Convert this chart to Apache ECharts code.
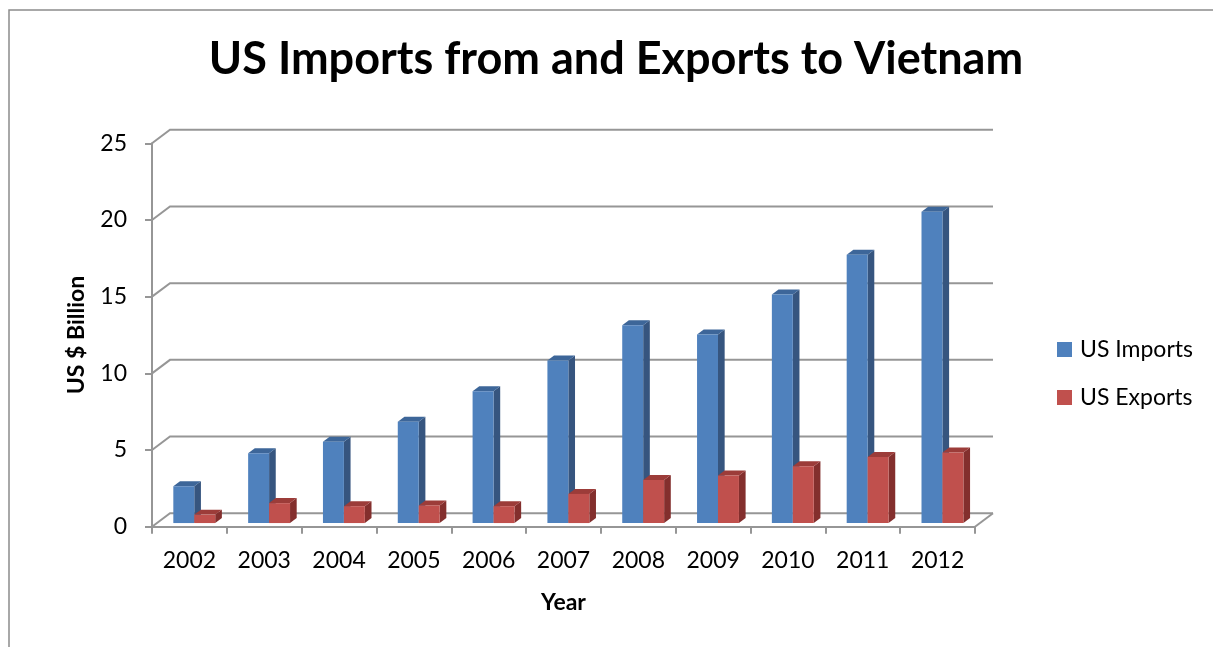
<!DOCTYPE html>
<html>
<head>
<meta charset="utf-8">
<script src="https://cdn.jsdelivr.net/npm/echarts@6/dist/echarts.min.js"></script>
<style>
  html, body { margin: 0; padding: 0; background: #fff; }
  #chart { width: 1213px; height: 647px; }
</style>
</head>
<body>
<div id="chart"></div>
<script>
// Trade data, US $ billion
const years = ['2002','2003','2004','2005','2006','2007','2008','2009','2010','2011','2012'];
const usImports = [2.4, 4.55, 5.3, 6.6, 8.6, 10.6, 12.9, 12.3, 14.9, 17.5, 20.3];
const usExports = [0.55, 1.3, 1.1, 1.15, 1.1, 1.9, 2.8, 3.1, 3.7, 4.3, 4.6];
const yTicks = [0, 5, 10, 15, 20, 25];

const FONT = 'Lato, "Open Sans", sans-serif';

// Oblique projection of the depth axis: full depth of the floor/back wall
const DX = 18, DY = -13.5;
// Bars occupy this slice of the depth
const T0 = 0.27, T1 = 0.64;
const BAR_FRAC = 0.28;

const chart = echarts.init(document.getElementById('chart'));

function barRenderer(side, colors) {
  return function (params, api) {
    const idx = api.value(0);
    const val = api.value(1);
    const top = api.coord([idx, val]);
    const base = api.coord([idx, 0]);
    const w = api.size([1, 0])[0] * BAR_FRAC;
    const c = top[0];
    const fx = T0 * DX, fy = T0 * DY;
    const bx = T1 * DX, by = T1 * DY;
    const x0 = side < 0 ? c + fx - w : c + fx;
    const x1 = x0 + w;
    const yTop = top[1] + fy;
    const yBot = base[1] + fy;
    const ddx = bx - fx, ddy = by - fy;
    return {
      type: 'group',
      children: [
        { type: 'polygon', shape: { points: [[x1, yTop], [x1 + ddx, yTop + ddy], [x1 + ddx, yBot + ddy], [x1, yBot]] },
          style: { fill: colors.side } },
        { type: 'polygon', shape: { points: [[x0, yTop], [x0 + ddx, yTop + ddy], [x1 + ddx, yTop + ddy], [x1, yTop]] },
          style: { fill: colors.top } },
        { type: 'rect', shape: { x: x0, y: yTop, width: w, height: yBot - yTop },
          style: { fill: colors.front } }
      ]
    };
  };
}

// Back wall gridlines with their slanted joins to the front axis
function wallRenderer(params, api) {
  const v = api.value(1);
  const left = api.coord([0, v]);
  const cs = params.coordSys;
  const xl = cs.x, xr = cs.x + cs.width;
  const y = left[1];
  const children = [
    { type: 'polyline', shape: { points: [[xl, y], [xl + DX, y + DY], [xr + DX, y + DY]] },
      style: { stroke: '#969696', lineWidth: 2, fill: null } }
  ];
  if (v === 0) {
    children.push({ type: 'line', shape: { x1: xr, y1: y, x2: xr + DX, y2: y + DY },
      style: { stroke: '#969696', lineWidth: 2 } });
  }
  return { type: 'group', children: children };
}

const option = {
  animation: false,
  backgroundColor: '#ffffff',
  title: {
    text: 'US Imports from and Exports to Vietnam',
    left: 611, top: 32, textAlign: 'center',
    textStyle: { fontFamily: FONT, fontWeight: 'bold', fontSize: 45, color: '#000' }
  },
  legend: {
    orient: 'vertical',
    left: 1052, top: 333,
    itemWidth: 15, itemHeight: 15, itemGap: 25,
    icon: 'rect',
    data: ['US Imports', 'US Exports'],
    textStyle: { fontFamily: FONT, fontSize: 23, color: '#000', padding: [0, 0, 0, 3] }
  },
  grid: { left: 152, right: 238, top: 143.3, bottom: 120.3, containLabel: false },
  xAxis: {
    type: 'category',
    data: years,
    name: 'Year',
    nameLocation: 'middle',
    nameGap: 64,
    nameTextStyle: { fontFamily: FONT, fontWeight: 'bold', fontSize: 23, color: '#000' },
    axisLine: { show: true, lineStyle: { color: '#969696', width: 2 } },
    axisTick: { show: true, length: 7, alignWithLabel: false, lineStyle: { color: '#969696', width: 2 } },
    axisLabel: { fontFamily: FONT, fontSize: 23, color: '#000', margin: 22 },
    splitLine: { show: false }
  },
  yAxis: {
    type: 'value',
    min: 0, max: 25, interval: 5,
    name: 'US $ Billion',
    nameLocation: 'middle',
    nameGap: 64,
    nameRotate: 90,
    nameTextStyle: { fontFamily: FONT, fontWeight: 'bold', fontSize: 23, color: '#000' },
    axisLine: { show: true, lineStyle: { color: '#969696', width: 2 } },
    axisTick: { show: true, length: 7, lineStyle: { color: '#969696', width: 2 } },
    axisLabel: { fontFamily: FONT, fontSize: 23, color: '#000', margin: 25 },
    splitLine: { show: false }
  },
  graphic: [
    { type: 'polyline', shape: { points: [[9, 647], [9, 10], [1213, 10]] },
      style: { stroke: '#8c8c8c', lineWidth: 1.5, fill: null }, silent: true }
  ],
  series: [
    {
      name: 'wall',
      type: 'custom',
      z: 1,
      silent: true,
      renderItem: wallRenderer,
      data: yTicks.map(v => [0, v])
    },
    {
      name: 'US Imports',
      type: 'custom',
      z: 2,
      itemStyle: { color: '#4F81BD' },
      renderItem: barRenderer(-1, { front: '#4F81BD', side: '#36557F', top: '#3D6699' }),
      data: usImports.map((v, i) => [i, v])
    },
    {
      name: 'US Exports',
      type: 'custom',
      z: 3,
      itemStyle: { color: '#C0504D' },
      renderItem: barRenderer(1, { front: '#C0504D', side: '#832F2D', top: '#9C3C39' }),
      data: usExports.map((v, i) => [i, v])
    }
  ]
};

chart.setOption(option);
</script>
</body>
</html>
